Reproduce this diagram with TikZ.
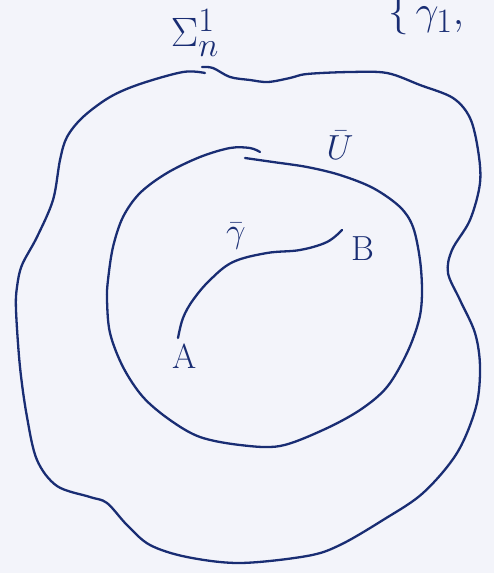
\documentclass[tikz,border=0pt]{standalone}
\usepackage{amsmath}
\definecolor{ink}{RGB}{25,45,115}
\definecolor{paper}{RGB}{243,244,250}
\newcommand{\sketchlbl}[1]{\scalebox{1.4}{\Huge #1}}
\newcommand{\sketchbig}[1]{\scalebox{1.65}{\Huge #1}}
\tikzset{
  stroke/.style={draw=ink, line width=2.3pt, line cap=round, line join=round},
  lbl/.style={text=ink, inner sep=0pt},
}
\begin{document}
\begin{tikzpicture}[x=1pt,y=-1pt]
\fill[paper] (0,0) rectangle (494,573);
\useasboundingbox (0,0) rectangle (494,573);
% outer curve Sigma
\draw[stroke] plot[smooth, tension=0.55] coordinates {
 (202,67) (213,68) (230,77) (250,80) (268,82) (290,78) (307,74) (350,72) (387,73)
 (420,85) (453,98) (470,118) (478,150) (480,183) (470,220) (452,250) (448,273)
 (460,300) (475,333) (480,367) (476,407) (457,453) (423,493) (383,520) (340,545)
 (307,556) (240,563) (187,557) (150,545) (127,525) (107,503) (90,497) (57,486)
 (37,460) (27,417) (20,367) (16,310) (17,287) (22,265) (37,237) (53,200) (60,160)
 (67,137) (83,117) (110,97) (140,84) (183,72) (205,73)};
% inner curve U
\draw[stroke] plot[smooth, tension=0.55] coordinates {
 (245,158) (273,162) (307,167) (340,175) (373,188) (400,207) (413,227) (420,260)
 (422,293) (419,320) (407,353) (387,387) (360,410) (323,430) (280,446) (240,445)
 (200,437) (170,420) (143,397) (123,367) (110,333) (107,300) (108,280) (113,247)
 (123,217) (140,193) (167,173) (200,157) (230,148) (250,148) (260,152)};
% curve gamma from A to B
\coordinate (ga) at (178,338);
\coordinate (gb) at (342,230);
\draw[stroke] plot[smooth, tension=0.6] coordinates {
 (ga) (183,318) (193,300) (210,280) (233,262) (267,253) (300,250) (327,242) (gb)};
% labels
\node[lbl] (A) at (185,356) {\sketchlbl{A}};
\node[lbl] (B) at (363,249) {\sketchlbl{B}};
\node[lbl] (gam) at (236,236) {\sketchlbl{$\bar{\gamma}$}};
\node[lbl] (U) at (340,145) {\sketchlbl{$\bar{U}$}};
\node[lbl] (S) at (195,33) {\sketchbig{$\Sigma^{1}_{n}$}};
\node[lbl, anchor=north west] (top) at (388,-6) {\sketchbig{$\{\,\gamma_{1},$}};
\end{tikzpicture}
\end{document}
